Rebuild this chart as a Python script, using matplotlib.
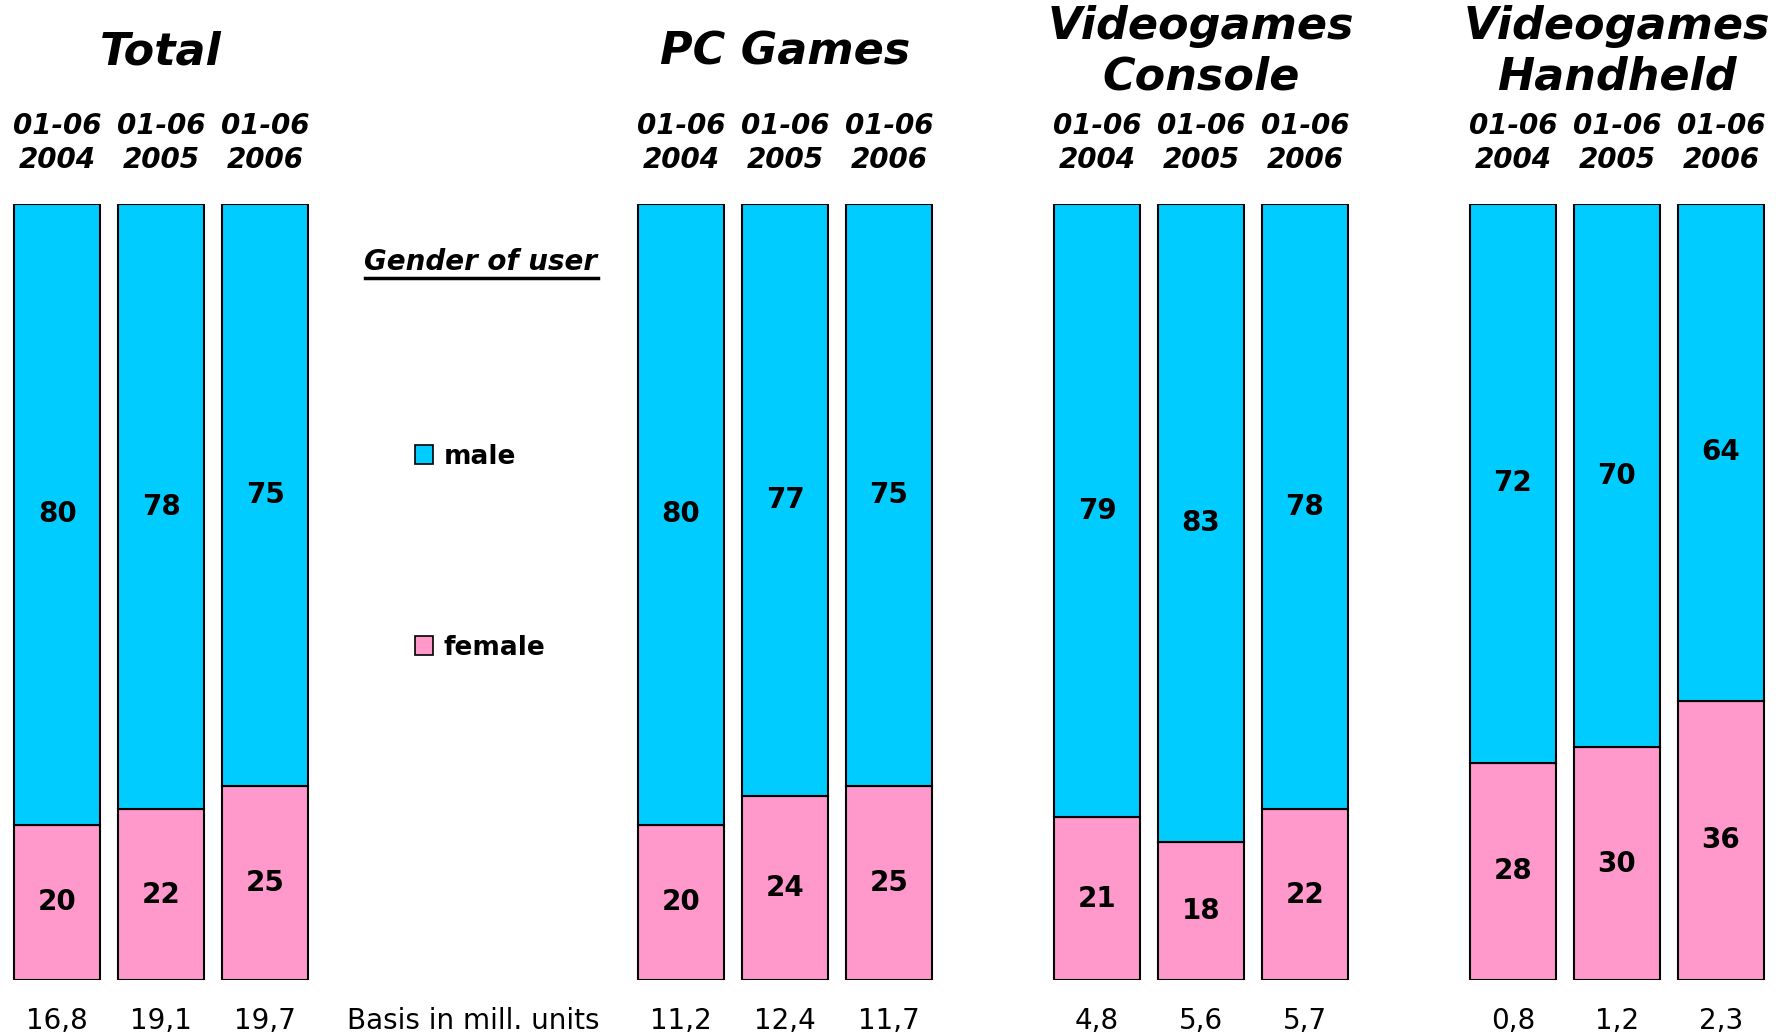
import matplotlib
matplotlib.use("Agg")
import matplotlib.pyplot as plt
from matplotlib import font_manager
from matplotlib.patches import Patch
from matplotlib.lines import Line2D

# ---- data ----
groups = ["Total", "PC Games", "Videogames\nConsole", "Videogames\nHandheld"]
periods = ["01-06\n2004", "01-06\n2005", "01-06\n2006"]
male = [80, 78, 75, 80, 77, 75, 79, 83, 78, 72, 70, 64]
female = [20, 22, 25, 20, 24, 25, 21, 18, 22, 28, 30, 36]
basis = [16.8, 19.1, 19.7, 11.2, 12.4, 11.7, 4.8, 5.6, 5.7, 0.8, 1.2, 2.3]
basis_label = "Basis in mill. units"
legend_title = "Gender of user"
series_names = ["male", "female"]
colors = {"male": "#00CCFF", "female": "#FF99CC"}

names = {f.name for f in font_manager.fontManager.ttflist}
narrow = "Liberation Sans Narrow" if "Liberation Sans Narrow" in names else "DejaVu Sans"

W, H = 1778, 1035
fig = plt.figure(figsize=(W / 100, H / 100), dpi=100)
ax = fig.add_axes([0, 1 - 980 / H, 1, 776 / H])
ax.set_xlim(-0.55, 16.55)
ax.set_ylim(0, 1)
ax.axis("off")

group_start = [0, 6, 10, 14]
xs = []
for g in group_start:
    xs += [g, g + 1, g + 2]

tot = [m + f for m, f in zip(male, female)]
fshare = [f / t for f, t in zip(female, tot)]
mshare = [1 - s for s in fshare]

ax.bar(xs, fshare, width=0.83, color=colors["female"], edgecolor="black", linewidth=1.5)
ax.bar(xs, mshare, bottom=fshare, width=0.83, color=colors["male"], edgecolor="black", linewidth=1.5)

for x, f, m, fs, ms, b in zip(xs, female, male, fshare, mshare, basis):
    ax.text(x, fs / 2, f"{f}", ha="center", va="center", fontsize=20, fontweight="bold")
    ax.text(x, fs + ms / 2, f"{m}", ha="center", va="center", fontsize=20, fontweight="bold")
    ax.text(x, -0.053, f"{b:.1f}".replace(".", ","), ha="center", va="center",
            fontsize=20, family=narrow)

ax.text(4, -0.053, basis_label, ha="center", va="center", fontsize=20, family=narrow)

for gi, g in enumerate(group_start):
    ax.text(g + 1, 1.196, groups[gi], ha="center", va="center", fontsize=32,
            fontweight="bold", fontstyle="italic", linespacing=1.22)
    for k in range(3):
        ax.text(g + k, 1.0786, periods[k], ha="center", va="center", fontsize=20,
                fontweight="bold", fontstyle="italic", linespacing=1.28)

# legend title with underline
t = fig.text(481 / W, 1 - 262 / H, legend_title, ha="center", va="center",
             fontsize=20, fontweight="bold", fontstyle="italic")
fig.canvas.draw()
bb = t.get_window_extent().transformed(fig.transFigure.inverted())
fig.add_artist(Line2D([bb.x0, bb.x1], [bb.y0 - 0.002, bb.y0 - 0.002],
                      transform=fig.transFigure, color="black", linewidth=2.5))

handles = [Patch(facecolor=colors[n], edgecolor="black", linewidth=1.2, label=n)
           for n in series_names]
fig.legend(handles=handles, loc="upper left", bbox_to_anchor=(391 / W, 1 - 420 / H),
           frameon=False, prop={"size": 19, "weight": "bold"}, labelspacing=6.25,
           handlelength=0.7, handleheight=0.7, handletextpad=0.4)

fig.savefig("out.png", dpi=100)
